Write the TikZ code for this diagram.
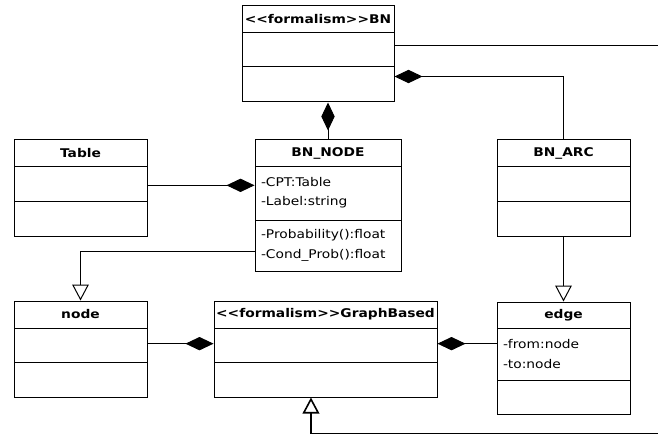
\documentclass[tikz,border=0pt]{standalone}
\usepackage{fontspec}
\usetikzlibrary{shapes.multipart,arrows.meta}
\newfontfamily\umlfont{DejaVu Sans}[FakeStretch=1.15]
\newlength{\upx}
\setlength{\upx}{0.75pt}
\newcommand{\umlsec}[3]{\parbox[c][#2\upx][c]{#1\upx}{#3}}
\newcommand{\umlhead}[3]{\umlsec{#1}{#2}{\centering\bfseries #3}}
\newcommand{\umllist}[3]{\umlsec{#1}{#2}{\raggedright\leftskip=6\upx #3}}
\begin{document}
\begin{tikzpicture}[x=0.75pt,y=-0.75pt,
    umlclass/.style={rectangle split, rectangle split parts=3, draw, line width=0.75pt,
      inner sep=0pt, anchor=north west, font=\umlfont\fontsize{9}{14.5}\selectfont},
    comp/.style={line width=0.75pt, -{Diamond[length=21pt,width=10pt]}},
    gen/.style={line width=0.75pt, -{Triangle[open,length=12pt,width=12.5pt]}}]
   \useasboundingbox (-0.5,-0.5) rectangle (657.5,434.5);
   \node[umlclass] (bn) at (241,5) {\umlhead{152}{26}{<<formalism>>BN}
     \nodepart{two}\umlsec{152}{33}{}
     \nodepart{three}\umlsec{152}{34}{}};
   \node[umlclass] (tab) at (13,139) {\umlhead{133}{25}{Table}
     \nodepart{two}\umlsec{133}{34}{}
     \nodepart{three}\umlsec{133}{34}{}};
   \node[umlclass] (bnnode) at (254,139) {\umlhead{146}{25}{BN\_NODE}
     \nodepart{two}\umllist{146}{53}{-CPT:Table\\-Label:string}
     \nodepart{three}\umllist{146}{50}{-Probability():float\\-Cond\_Prob():float}};
   \node[umlclass] (arc) at (496,139) {\umlhead{133}{25}{BN\_ARC}
     \nodepart{two}\umlsec{133}{34}{}
     \nodepart{three}\umlsec{133}{34}{}};
   \node[umlclass] (nd) at (13,300) {\umlhead{133}{26}{node}
     \nodepart{two}\umlsec{133}{33}{}
     \nodepart{three}\umlsec{133}{34}{}};
   \node[umlclass] (gb) at (213,300) {\umlhead{223}{26}{<<formalism>>GraphBased}
     \nodepart{two}\umlsec{223}{33}{}
     \nodepart{three}\umlsec{223}{34}{}};
   \node[umlclass] (edge) at (496,301) {\umlhead{133}{25}{edge}
     \nodepart{two}\umllist{133}{51}{-from:node\\-to:node}
     \nodepart{three}\umlsec{133}{33}{}};
   \coordinate (outtop) at (658,45);
   \coordinate (outbot) at (658,433);
   \coordinate (gbl) at ([yshift=4pt]gb.west);
   \coordinate (gbr) at ([yshift=4pt]gb.east);
   \draw[line width=1.2pt] (bn.east |- outtop) -- (outtop);
   \draw[comp] (arc.north) |- ([yshift=19.5pt]bn.south east);
   \draw[comp] (bnnode.north) -- (bnnode.north |- bn.south);
   \draw[comp] ([yshift=2pt]tab.east) -- ([yshift=2pt]tab.east -| bnnode.west);
   \draw[gen] ([yshift=15pt]bnnode.south west) -| (nd.north);
   \draw[gen] (arc.south) -- (edge.north);
   \draw[comp] (nd.east |- gbl) -- (gbl);
   \draw[comp] (edge.west |- gbr) -- (gbr);
   \draw[gen,line width=1.2pt] (outbot) -| ([xshift=-10.9pt]gb.south);
\end{tikzpicture}
\end{document}
